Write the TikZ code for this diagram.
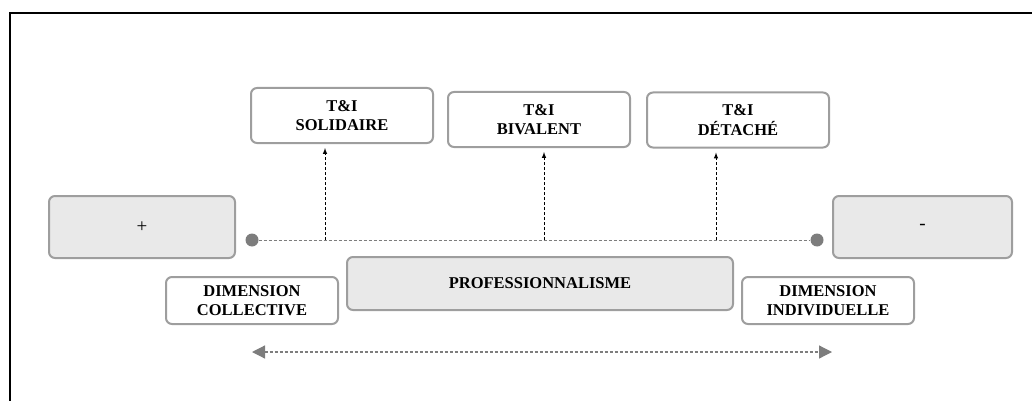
\documentclass[tikz,border=0pt]{standalone}
\usepackage{fontspec}
\setmainfont{Liberation Serif}
\usetikzlibrary{shapes.geometric, arrows, arrows.meta, calc, positioning}
\definecolor{boxgray}{RGB}{158,158,158}
\definecolor{fillgray}{RGB}{233,233,233}
\definecolor{dotgray}{RGB}{125,125,125}
\tikzstyle{blockgray} = [rectangle, rounded corners=6pt, align=center, draw=boxgray, line width=2pt, fill=fillgray, font=\fontsize{16.5}{19.5}\selectfont\bfseries]
\tikzstyle{blockwhite} = [rectangle, rounded corners=6pt, align=center, draw=boxgray, line width=2pt, fill=white, font=\fontsize{16.5}{19.5}\selectfont\bfseries]
\tikzstyle{dot} = [circle, fill=dotgray, inner sep=0pt, minimum size=13pt]
\tikzstyle{arrow} = [line width=1pt, dash pattern=on 3pt off 2pt, ->, >=latex, shorten >=4pt]
\tikzstyle{axis} = [line width=1pt, draw=dotgray, dash pattern=on 3pt off 2pt]

\begin{document}
\begin{tikzpicture}[x=1pt, y=-1pt]
\useasboundingbox (0,0) rectangle (1032,401);

% frame
\draw[line width=1.6pt] (10,401) -- (10,13) -- (1032,13);

\node (plus) [blockgray, font=\fontsize{19}{22}\selectfont, minimum width=186pt, minimum height=62pt] at (142,227) {+};
\node (minus) [blockgray, font=\fontsize{19}{22}\selectfont, minimum width=179pt, minimum height=62pt] at (922.5,227) {-};

\node (solidaire) [blockwhite, minimum width=182pt, minimum height=55pt] at (342,115.5) {T\&I\\SOLIDAIRE};
\node (bivalent) [blockwhite, minimum width=182pt, minimum height=55pt] at (539,119.5) {T\&I\\BIVALENT};
\node (detache) [blockwhite, minimum width=182pt, minimum height=55pt] at (738,120) {T\&I\\DÉTACHÉ};

\node (prof) [blockgray, minimum width=386pt, minimum height=53pt] at (540,283.5) {PROFESSIONNALISME};
\node (dimcoll) [blockwhite, minimum width=172pt, minimum height=47pt] at (252,300.5) {DIMENSION\\COLLECTIVE};
\node (dimind) [blockwhite, minimum width=172pt, minimum height=47pt] at (828,300.5) {DIMENSION\\INDIVIDUELLE};

\node (dotleft) [dot] at (252,240) {};
\node (dotright) [dot] at (817,240) {};
\draw[axis] (dotleft) -- (dotright);

\coordinate (sol0) at (325,240);
\coordinate (biv0) at (544,240);
\coordinate (det0) at (716,240);
\draw [arrow] (sol0) -- (sol0 |- solidaire.south);
\draw [arrow] (biv0) -- (biv0 |- bivalent.south);
\draw [arrow] (det0) -- (det0 |- detache.south);

\coordinate (left) at (252,352);
\coordinate (right) at (832,352);
\draw[axis, line width=1.2pt, {Triangle[length=13pt,width=13pt]}-{Triangle[length=13pt,width=13pt]}, dotgray] (left) -- (right);

\end{tikzpicture}
\end{document}
